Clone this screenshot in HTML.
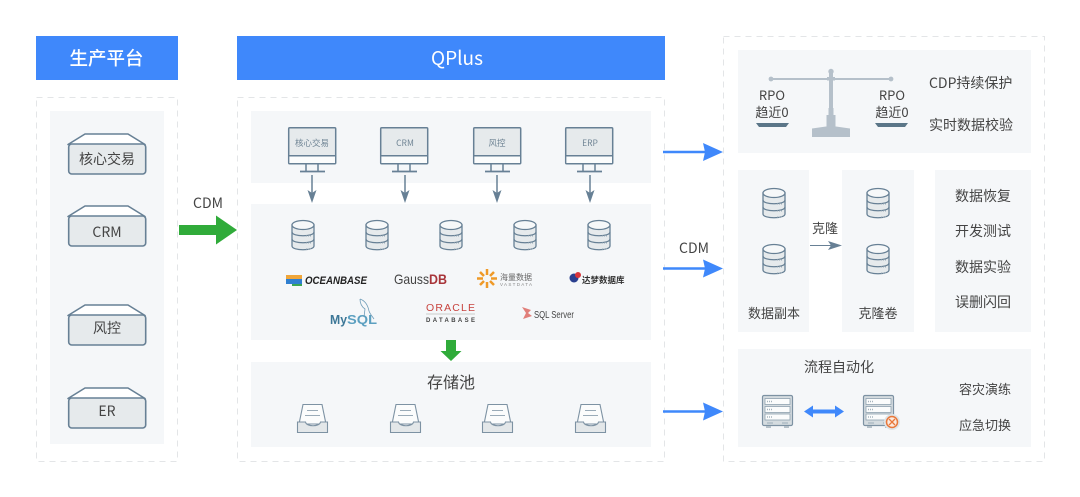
<!DOCTYPE html>
<html><head><meta charset="utf-8">
<style>
html,body{margin:0;padding:0;background:#fff;width:1080px;height:497px;overflow:hidden}
svg{display:block}
text{font-family:"Liberation Sans","Noto Sans CJK SC",sans-serif;fill:#444}
.n{font-family:"Noto Sans CJK SC","Liberation Sans",sans-serif}
.p{fill:#f5f7f9}
.d{fill:none;stroke:#e3e5e7;stroke-dasharray:6 5;stroke-width:1}
</style></head><body>
<svg width="1080" height="497" viewBox="0 0 1080 497" xmlns="http://www.w3.org/2000/svg">
<defs>
<g id="db" fill="#e6eaec" stroke="#678095" stroke-width="1.300">
<path d="M-11 5v21c0 5 22 5 22 0V5z"/>
<ellipse cx="0" cy="5" rx="11" ry="4.500" fill="#f6f8f9"/>
<path d="M-11 12c0 5 22 5 22 0M-11 19c0 5 22 5 22 0" fill="none"/>
<path d="M3 16h5M3 23h5M3 29h5" stroke="#9aabb8" stroke-width="1" stroke-dasharray="1 1" fill="none"/>
</g>
<g id="mon">
<rect x="0.700" y="0.700" width="47" height="36" rx="1" fill="#e6eaec" stroke="#678095" stroke-width="1.500"/>
<rect x="1.400" y="29" width="45.600" height="7" fill="#fbfcfc"/>
<path d="M1 28.700h46M18 37v7M30 37v7" stroke="#678095" stroke-width="1.500" fill="none"/>
<path d="M12 44.500h25" stroke="#678095" stroke-width="1.800"/>
</g>
<g id="ar">
<path d="M0 0v18" stroke="#678095" stroke-width="1.500"/>
<path d="M-4.500 15L0 28 4.500 15 0 18z" fill="#678095"/>
</g>
<g id="box">
<path d="M17 1h43l17 10.500H0z" fill="#fff" stroke="#678095" stroke-width="1.600" stroke-linejoin="round"/>
<rect x="0.700" y="11" width="77" height="30" rx="3" fill="#e6eaec" stroke="#678095" stroke-width="1.600"/>
</g>
<g id="tray">
<path d="M2 20L6 0.500h19L29 20z" fill="#fbfcfc" stroke="#7d92a3" stroke-width="1.100"/>
<path d="M10 6.500h11M8 11.500h15" stroke="#9aabb8" stroke-width="1.100"/>
<path d="M0.500 18h8c1 5 14 5 15 0h7v10.500H0.500z" fill="#e3e7e9" stroke="#7d92a3" stroke-width="1.100"/>
</g>
<g id="srv">
<rect x="0.500" y="0.500" width="30" height="30" rx="1.500" fill="#d5dce0" stroke="#7d92a3" stroke-width="1.200"/>
<g fill="#fbfcfc" stroke="#8ea0ae" stroke-width=".8">
<rect x="3" y="3.500" width="25" height="6"/><rect x="3" y="11.500" width="25" height="6"/><rect x="3" y="19" width="25" height="6"/>
</g>
<path d="M5 6.500h6M5 14.500h6M5 22h6" stroke="#a5b3bd" stroke-width="1.500" stroke-dasharray="1 1"/>
<path d="M5 28h6M20 28h6" stroke="#9aabb8" stroke-width="1"/>
<path d="M4 31h5v2H4zM22 31h5v2h-5z" fill="#b5c0c8"/>
</g>
</defs>

<rect x="36" y="36" width="142" height="44" fill="#3f88fb"/>
<rect x="237" y="36" width="428" height="44" fill="#3f88fb"/>
<text x="106.500" y="65" text-anchor="middle" font-size="18.500" font-weight="500" style="fill:#fff" class="n">生产平台</text>
<text x="457" y="65" text-anchor="middle" font-size="19" style="fill:#fff" class="n">QPlus</text>

<rect class="d" x="36.500" y="97.500" width="141" height="364"/>
<rect class="d" x="237.500" y="97.500" width="427" height="364"/>
<rect class="d" x="723.500" y="36.500" width="321" height="425"/>

<rect class="p" x="50" y="111" width="114" height="333"/>
<rect class="p" x="251" y="111" width="400" height="72"/>
<rect class="p" x="251" y="204" width="400" height="136"/>
<rect class="p" x="251" y="362" width="400" height="85"/>
<rect class="p" x="738" y="50" width="293" height="103"/>
<rect class="p" x="738" y="170" width="71" height="162"/>
<rect class="p" x="842" y="170" width="72" height="162"/>
<rect class="p" x="935" y="170" width="96" height="162"/>
<rect class="p" x="738" y="349" width="293" height="98"/>

<use href="#box" x="68" y="133"/>
<use href="#box" x="68" y="205"/>
<use href="#box" x="68" y="304"/>
<use href="#box" x="68" y="387"/>
<g font-size="14" text-anchor="middle" class="n">
<text class="n" x="107" y="164">核心交易</text>
<text class="n" x="107" y="237">CRM</text>
<text class="n" x="107" y="333">风控</text>
<text class="n" x="107" y="416">ER</text>
</g>

<text class="n" x="208" y="208" font-size="14" text-anchor="middle">CDM</text>
<path d="M179 225h37v-9.500l21 14.500-21 14.500V235h-37z" fill="#30ab3a"/>

<use href="#mon" x="288" y="127"/><use href="#mon" x="380" y="127"/><use href="#mon" x="473" y="127"/><use href="#mon" x="565" y="127"/>
<g font-size="8.500" text-anchor="middle">
<text class="n" x="312" y="146" style="fill:#6f8494">核心交易</text>
<text class="n" x="405" y="146" style="fill:#6f8494">CRM</text>
<text class="n" x="497" y="146" style="fill:#6f8494">风控</text>
<text class="n" x="590" y="146" style="fill:#6f8494">ERP</text>
</g>
<use href="#ar" x="312" y="175"/><use href="#ar" x="405" y="175"/><use href="#ar" x="497" y="175"/><use href="#ar" x="590" y="175"/>

<use href="#db" x="303" y="220"/><use href="#db" x="377" y="220"/><use href="#db" x="451" y="220"/><use href="#db" x="525" y="220"/><use href="#db" x="599" y="220"/>

<!-- logos -->
<path d="M286 275h16v4h-16z" fill="#f0a63a"/><path d="M286 279h16v5h-16z" fill="#2f7fd0"/><path d="M292 284h10v2h-10z" fill="#3aa655"/>
<text x="305" y="284" font-size="11" font-weight="bold" font-style="italic" style="fill:#222" textLength="62" lengthAdjust="spacingAndGlyphs">OCEANBASE</text>
<text x="394" y="284" font-size="14" style="fill:#444" textLength="35" lengthAdjust="spacingAndGlyphs">Gauss</text>
<text x="429" y="284" style="fill:#a8353a" font-size="14" font-weight="bold" textLength="18" lengthAdjust="spacingAndGlyphs">DB</text>
<g stroke="#ef9a28" stroke-width="2.500" fill="none">
<path d="M487 269v6M487 282v6M477 278.500h6M491 278.500h6M480 272l4 4M490 281l4 4M494 272l-4 4M480 285l4-4"/>
</g>
<text class="n" x="500" y="280" font-size="8" style="fill:#666">海量数据</text>
<text x="500" y="286" font-size="4.500" style="fill:#888" textLength="32">VASTDATA</text>
<circle cx="574" cy="278" r="4.500" fill="#2a3f8f"/><circle cx="578" cy="275" r="3" fill="#d8343a"/>
<text class="n" x="582" y="283" font-size="8.500" font-weight="bold" style="fill:#333">达梦数据库</text>

<text x="330" y="324" font-size="13" font-weight="bold" style="fill:#3c7797" textLength="17" lengthAdjust="spacingAndGlyphs">My</text>
<text x="347" y="324" font-size="13" font-weight="bold" style="fill:#5b9fc0" textLength="30" lengthAdjust="spacingAndGlyphs">SQL</text>
<path d="M360 299c6 2 8 7 9 12 1 3 3 5 5 8M360 299c0 5 2 8 5 10l-1 8" stroke="#6e9cb8" stroke-width=".8" fill="none"/>
<text x="426" y="311" font-size="10.500" style="fill:#c8443f" textLength="49">ORACLE</text>
<path d="M426 314h49" stroke="#ccc" stroke-width="1"/>
<text x="426" y="322" font-size="6" font-weight="bold" style="fill:#444" textLength="49">DATABASE</text>
<path d="M522 307l9 3-3 3 4 3-9 3 3-6z" fill="#d9574f" opacity=".75"/>
<text x="534" y="318" font-size="10" style="fill:#444" textLength="40" lengthAdjust="spacingAndGlyphs">SQL Server</text>

<path d="M446 340h10v11h5.500l-10.500 10-10.500-10H446z" fill="#30ab3a"/>
<text class="n" x="451" y="388" font-size="16" text-anchor="middle">存储池</text>
<use href="#tray" x="297" y="404"/><use href="#tray" x="390" y="404"/><use href="#tray" x="482" y="404"/><use href="#tray" x="575" y="404"/>

<g fill="#3f88fb">
<path d="M663 150.800h42v2.400h-42z"/><path d="M703 143l20 9-20 9 2-9z"/>
<path d="M663 267.300h42v2.400h-42z"/><path d="M703 259.500l20 9-20 9 2-9z"/>
<path d="M663 410.300h42v2.400h-42z"/><path d="M703 402.500l20 9-20 9 2-9z"/>
</g>
<text class="n" x="694" y="253" font-size="14" text-anchor="middle">CDM</text>

<!-- balance -->
<g fill="#b5c0ca">
<rect x="771" y="78" width="120" height="2"/>
<circle cx="771" cy="79" r="2.400"/><circle cx="891" cy="79" r="2.400"/><circle cx="831" cy="71.500" r="2.700"/>
<rect x="829" y="72" width="4" height="46"/><rect x="827" y="77" width="8" height="3.500"/>
<rect x="828.500" y="108" width="5" height="8"/><rect x="826.500" y="115" width="9" height="13"/>
<path d="M812 128.500l14-2h10l14 2V137h-38z"/>
</g>
<path d="M756 123h33l-3 4h-27zM875 123h33l-3 4h-27z" fill="#5b7688"/>
<g font-size="13" text-anchor="middle">
<text class="n" x="772" y="100">RPO</text><text class="n" x="772" y="117">趋近0</text>
<text class="n" x="892" y="100">RPO</text><text class="n" x="892" y="117">趋近0</text>
</g>
<g font-size="14">
<text class="n" x="929" y="88">CDP持续保护</text>
<text class="n" x="929" y="130">实时数据校验</text>
</g>

<!-- clone -->
<use href="#db" x="774" y="188"/><use href="#db" x="774" y="244"/>
<use href="#db" x="878" y="188"/><use href="#db" x="878" y="244"/>
<text class="n" x="825" y="233" font-size="13" text-anchor="middle">克隆</text>
<path d="M810 245.500h26" stroke="#678095" stroke-width="1"/>
<path d="M828 241l14 4.500-14 4.500 3-4.500z" fill="#678095"/>
<text class="n" x="774" y="318" font-size="13" text-anchor="middle">数据副本</text>
<text class="n" x="878" y="318" font-size="13" text-anchor="middle">克隆卷</text>
<g font-size="14" text-anchor="middle">
<text class="n" x="983" y="201">数据恢复</text>
<text class="n" x="983" y="236">开发测试</text>
<text class="n" x="983" y="272">数据实验</text>
<text class="n" x="983" y="307">误删闪回</text>
</g>

<!-- automation -->
<text class="n" x="839" y="372" font-size="14" text-anchor="middle">流程自动化</text>
<use href="#srv" x="762" y="395"/><use href="#srv" x="863" y="395"/>
<path d="M804 411.500l9-6v4h22v-4l9 6-9 6v-4h-22v4z" fill="#3f88fb"/>
<circle cx="892" cy="422" r="8" fill="#dfe5e8"/>
<circle cx="892" cy="422" r="5.500" fill="#fbe9dd" stroke="#e8773a" stroke-width="1.500"/>
<path d="M889 419l6 6M895 419l-6 6" stroke="#e8773a" stroke-width="1.300"/>
<text class="n" x="985" y="394" font-size="13" text-anchor="middle">容灾演练</text>
<text class="n" x="985" y="430" font-size="13" text-anchor="middle">应急切换</text>
</svg>
</body></html>
